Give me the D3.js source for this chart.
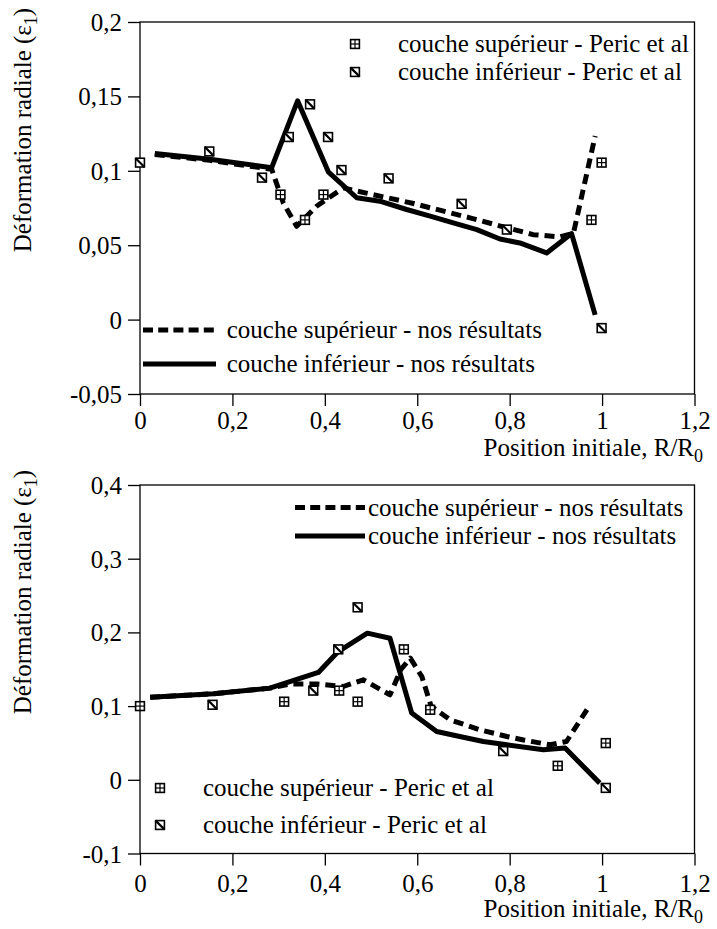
<!DOCTYPE html>
<html><head><meta charset="utf-8">
<script src="https://cdn.jsdelivr.net/npm/d3@7"></script>
<style>
html,body{margin:0;padding:0;background:#fff;}
svg text{font-family:"Liberation Serif","Times New Roman","DejaVu Serif",serif;fill:#000;}
</style></head>
<body><svg id="chart" width="717" height="929"></svg>
<script>
// ---------- Shared axis data ----------
const xTickValues = [0, 0.2, 0.4, 0.6, 0.8, 1, 1.2];
const xMinorStep = 0.05;
const xTitle = "Position initiale, R/R";
const xTitleSub = "0";
const yTitle = "Déformation radiale (ε";
const yTitleSub = "1";

// ---------- Top chart ----------
const topYTicks = [-0.05, 0, 0.05, 0.1, 0.15, 0.2];
const topYMinorStep = 0.01;
const topSupPericX = [0.304, 0.357, 0.397, 0.977, 0.999];
const topSupPericY = [0.084, 0.067, 0.084, 0.067, 0.1055];
const topInfPericX = [0, 0.15, 0.264, 0.322, 0.368, 0.407, 0.436, 0.538, 0.696, 0.794, 0.999];
const topInfPericY = [0.1055, 0.113, 0.0954, 0.1227, 0.1447, 0.1227, 0.1005, 0.0949, 0.0778, 0.0605, -0.0057];
const topSupNosX = [0.032, 0.151, 0.285, 0.31, 0.339, 0.382, 0.44, 0.49, 0.592, 0.714, 0.794, 0.851, 0.909, 0.938, 0.985];
const topSupNosY = [0.111, 0.107, 0.101, 0.0785, 0.0627, 0.0762, 0.0885, 0.085, 0.078, 0.0684, 0.0617, 0.0571, 0.0556, 0.058, 0.1234];
const topInfNosX = [0.032, 0.151, 0.285, 0.341, 0.408, 0.469, 0.519, 0.577, 0.628, 0.678, 0.729, 0.779, 0.822, 0.88, 0.934, 0.985];
const topInfNosY = [0.1117, 0.1077, 0.1021, 0.147, 0.0991, 0.0819, 0.0796, 0.074, 0.0695, 0.065, 0.0605, 0.0542, 0.0515, 0.0448, 0.0578, 0.0032];

// ---------- Bottom chart ----------
const botYTicks = [-0.1, 0, 0.1, 0.2, 0.3, 0.4];
const botYMinorStep = 0.02;
const botSupPericX = [0, 0.312, 0.431, 0.471, 0.571, 0.628, 0.904, 1.008];
const botSupPericY = [0.1, 0.106, 0.121, 0.106, 0.177, 0.095, 0.019, 0.0498];
const botInfPericX = [0.157, 0.375, 0.429, 0.471, 0.786, 1.008];
const botInfPericY = [0.1018, 0.121, 0.177, 0.234, 0.039, -0.011];
const botSupNosX = [0.022, 0.159, 0.281, 0.325, 0.382, 0.44, 0.483, 0.541, 0.565, 0.585, 0.61, 0.63, 0.671, 0.736, 0.794, 0.83, 0.887, 0.923, 0.974];
const botSupNosY = [0.112, 0.1167, 0.1244, 0.13, 0.13, 0.1266, 0.1357, 0.1153, 0.15, 0.165, 0.14, 0.1, 0.0814, 0.0678, 0.0588, 0.054, 0.0475, 0.052, 0.1018];
const botInfNosX = [0.022, 0.159, 0.281, 0.386, 0.429, 0.492, 0.541, 0.588, 0.642, 0.692, 0.743, 0.794, 0.873, 0.92, 0.995];
const botInfNosY = [0.112, 0.1167, 0.1244, 0.1456, 0.174, 0.199, 0.192, 0.0905, 0.0656, 0.0588, 0.052, 0.0475, 0.0407, 0.043, -0.0045];

const legSupPeric = "couche supérieur - Peric et al";
const legInfPeric = "couche inférieur - Peric et al";
const legSupNos = "couche supérieur - nos résultats";
const legInfNos = "couche inférieur - nos résultats";

// ---------- Drawing ----------
const svg = d3.select("#chart");
const FS = 25;
const fmt = d => String(+d.toFixed(2)).replace(".", ",");
const zip = (xs, ys) => xs.map((x, i) => ({x, y: ys[i]}));
const rangeStep = (a, b, s) => d3.range(Math.round((b - a) / s) + 1).map(i => +(a + i * s).toFixed(4));

function marker(g, type, cx, cy) {
  const s = 4.4;
  const m = g.append("g").attr("transform", `translate(${cx},${cy})`);
  m.append("rect").attr("x", -s).attr("y", -s).attr("width", 2 * s).attr("height", 2 * s)
    .attr("fill", "#fff").attr("stroke", "#000").attr("stroke-width", 1.6);
  if (type === "sup") {
    m.append("line").attr("x1", 0).attr("x2", 0).attr("y1", -s).attr("y2", s).attr("stroke", "#000").attr("stroke-width", 1.2);
    m.append("line").attr("x1", -s).attr("x2", s).attr("y1", 0).attr("y2", 0).attr("stroke", "#000").attr("stroke-width", 1.2);
  } else {
    m.append("line").attr("x1", -s).attr("x2", s).attr("y1", -s).attr("y2", s).attr("stroke", "#000").attr("stroke-width", 2.2);
  }
}

function panel(cfg) {
  const x = d3.scaleLinear().domain([0, 1.2]).range([140, 694.5]);
  const y = d3.scaleLinear().domain(cfg.yDomain).range([cfg.bottom, cfg.top]);
  const g = svg.append("g");

  // frame
  g.append("rect").attr("x", x(0)).attr("y", cfg.top).attr("width", x(1.2) - x(0)).attr("height", cfg.bottom - cfg.top)
    .attr("fill", "none").attr("stroke", "#000").attr("stroke-width", 1.3);

  // axes
  const xMinor = rangeStep(0, 1.2, xMinorStep);
  const yMinor = rangeStep(cfg.yDomain[0], cfg.yDomain[1], cfg.yMinorStep);
  const ax = g.append("g").attr("transform", `translate(0,${cfg.bottom})`);
  ax.call(d3.axisBottom(x).tickValues(xMinor).tickSize(6).tickFormat(""));
  ax.call(d3.axisBottom(x).tickValues(xTickValues).tickSize(12).tickPadding(cfg.xPad).tickFormat(fmt));
  const ay = g.append("g").attr("transform", `translate(${x(0)},0)`);
  ay.call(d3.axisLeft(y).tickValues(yMinor).tickSize(6).tickFormat(""));
  ay.call(d3.axisLeft(y).tickValues(cfg.yTicks).tickSize(12).tickPadding(6).tickFormat(fmt));
  g.selectAll(".domain").remove();
  g.selectAll(".tick line").attr("stroke", "#000").attr("stroke-width", 1.3);
  g.selectAll(".tick text").attr("font-size", FS);
  ax.selectAll(".tick text").attr("dy", "0.7em");
  ay.selectAll(".tick text").attr("dy", "0.34em");

  // axis titles
  const xt = g.append("text").attr("x", 703).attr("y", cfg.xTitleY).attr("text-anchor", "end").attr("font-size", FS);
  xt.append("tspan").text(xTitle);
  xt.append("tspan").attr("dy", 6).attr("font-size", 18).text(xTitleSub);
  const yt = g.append("text").attr("transform", `translate(31,${cfg.yTitleY}) rotate(-90)`).attr("text-anchor", "middle").attr("font-size", FS);
  yt.append("tspan").text(yTitle);
  yt.append("tspan").attr("dy", 6).attr("font-size", 18).text(yTitleSub);
  yt.append("tspan").attr("dy", -6).text(")");

  // lines
  const line = d3.line().x(d => x(d.x)).y(d => y(d.y));
  g.append("path").datum(zip(cfg.supNosX, cfg.supNosY)).attr("d", line).attr("fill", "none")
    .attr("stroke", "#000").attr("stroke-width", 5).attr("stroke-dasharray", "10,6").attr("stroke-linejoin", "round");
  g.append("path").datum(zip(cfg.infNosX, cfg.infNosY)).attr("d", line).attr("fill", "none")
    .attr("stroke", "#000").attr("stroke-width", 5).attr("stroke-linejoin", "round");

  // markers
  zip(cfg.supPericX, cfg.supPericY).forEach(d => marker(g, "sup", x(d.x), y(d.y)));
  zip(cfg.infPericX, cfg.infPericY).forEach(d => marker(g, "inf", x(d.x), y(d.y)));

  // legend: markers
  const lm = cfg.legMarkers;
  marker(g, "sup", lm.x, lm.y1); marker(g, "inf", lm.x, lm.y2);
  g.append("text").attr("x", lm.tx).attr("y", lm.y1 + 8).attr("font-size", FS).text(legSupPeric);
  g.append("text").attr("x", lm.tx).attr("y", lm.y2 + 8).attr("font-size", FS).text(legInfPeric);
  // legend: lines
  const ll = cfg.legLines;
  g.append("line").attr("x1", ll.x1).attr("x2", ll.x2).attr("y1", ll.y1).attr("y2", ll.y1)
    .attr("stroke", "#000").attr("stroke-width", 5).attr("stroke-dasharray", "10,5.2");
  g.append("line").attr("x1", ll.x1).attr("x2", ll.x2).attr("y1", ll.y2).attr("y2", ll.y2)
    .attr("stroke", "#000").attr("stroke-width", 5);
  g.append("text").attr("x", ll.tx).attr("y", ll.y1 + 8).attr("font-size", FS).text(legSupNos);
  g.append("text").attr("x", ll.tx).attr("y", ll.y2 + 8).attr("font-size", FS).text(legInfNos);
}

panel({
  top: 22, bottom: 394, yDomain: [-0.05, 0.2], yTicks: topYTicks, yMinorStep: topYMinorStep,
  xPad: 5, xTitleY: 456, yTitleY: 130,
  supPericX: topSupPericX, supPericY: topSupPericY, infPericX: topInfPericX, infPericY: topInfPericY,
  supNosX: topSupNosX, supNosY: topSupNosY, infNosX: topInfNosX, infNosY: topInfNosY,
  legMarkers: {x: 355, y1: 44, y2: 72, tx: 398},
  legLines: {x1: 143, x2: 216, y1: 330, y2: 364, tx: 226.7}
});
panel({
  top: 485, bottom: 853.5, yDomain: [-0.1, 0.4], yTicks: botYTicks, yMinorStep: botYMinorStep,
  xPad: 9, xTitleY: 917, yTitleY: 592,
  supPericX: botSupPericX, supPericY: botSupPericY, infPericX: botInfPericX, infPericY: botInfPericY,
  supNosX: botSupNosX, supNosY: botSupNosY, infNosX: botInfNosX, infNosY: botInfNosY,
  legMarkers: {x: 160, y1: 788, y2: 825, tx: 203},
  legLines: {x1: 295, x2: 365, y1: 507.5, y2: 536, tx: 368}
});
</script></body></html>
